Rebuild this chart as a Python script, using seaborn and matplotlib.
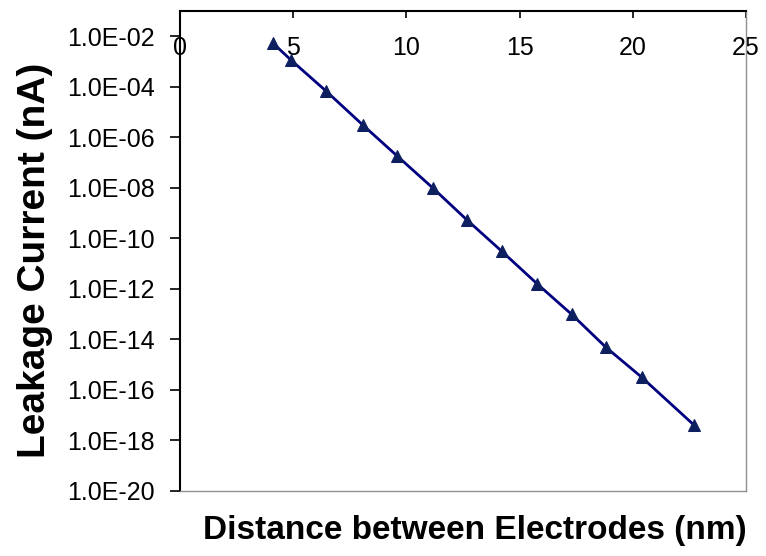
import numpy as np
import pandas as pd
import matplotlib
matplotlib.use('Agg')
import matplotlib.pyplot as plt
import matplotlib.ticker as mticker
import seaborn as sns

# data
distance_nm = [4.09, 4.90, 6.45, 8.07, 9.57, 11.16, 12.66, 14.21, 15.77, 17.30, 18.80, 20.39, 22.70]
leakage_nA = [5.5e-3, 1.15e-3, 6.8e-5, 3.1e-6, 1.9e-7, 1.0e-8, 5.5e-10,
              3.1e-11, 1.6e-12, 9.8e-14, 5.0e-15, 3.2e-16, 4.1e-18]
x_ticks = [0, 5, 10, 15, 20, 25]
y_ticks = [1e-20, 1e-18, 1e-16, 1e-14, 1e-12, 1e-10, 1e-8, 1e-6, 1e-4, 1e-2]

df = pd.DataFrame({'Distance': distance_nm, 'Leakage': leakage_nA})

sns.set_style('white')
plt.rcParams['font.family'] = ['Liberation Sans', 'DejaVu Sans']
plt.rcParams['text.color'] = 'black'
plt.rcParams['xtick.color'] = 'black'
plt.rcParams['ytick.color'] = 'black'

fig = plt.figure(figsize=(7.66, 5.56), dpi=100)
ax = fig.add_axes([180 / 766, 1 - 491 / 556, 566 / 766, 480 / 556])

sns.lineplot(data=df, x='Distance', y='Leakage', ax=ax, color='#000080',
             linewidth=2, marker='^', markersize=9, markerfacecolor='#0d1f5e',
             markeredgecolor='#0d1f5e')

ax.set_yscale('log')
ax.set_xlim(0, 25)
ax.set_ylim(1e-20, 1e-1)
ax.set_xticks(x_ticks)
ax.set_yticks(y_ticks)
ax.yaxis.set_minor_locator(mticker.NullLocator())
ax.yaxis.set_major_formatter(mticker.FuncFormatter(
    lambda v, p: '1.0E%+03d' % int(round(np.log10(v))) if v < 1 else '1.0E+00'))

# x ticks sit on the top spine, labels drawn just below it
ax.tick_params(axis='x', which='both', top=True, bottom=False, labeltop=True,
               labelbottom=False, direction='in', length=5, width=1.2,
               color='black', labelsize=18, pad=-35)
ax.tick_params(axis='y', which='major', left=True, direction='out', length=7,
               width=1.2, color='black', labelsize=18, pad=11)

for side in ['left', 'top']:
    ax.spines[side].set_color('black')
    ax.spines[side].set_linewidth(1.5)
for side in ['right', 'bottom']:
    ax.spines[side].set_color('#909090')
    ax.spines[side].set_linewidth(1.0)

ax.set_xlabel('')
ax.set_ylabel('')
fig.text(475 / 766, 1 - 530 / 556, 'Distance between Electrodes (nm)',
         ha='center', va='center', fontsize=24, fontweight='bold')
fig.text(35 / 766, 1 - 260 / 556, 'Leakage Current (nA)', rotation=90,
         ha='center', va='center', fontsize=28, fontweight='bold')

fig.savefig('out.png', dpi=100)
